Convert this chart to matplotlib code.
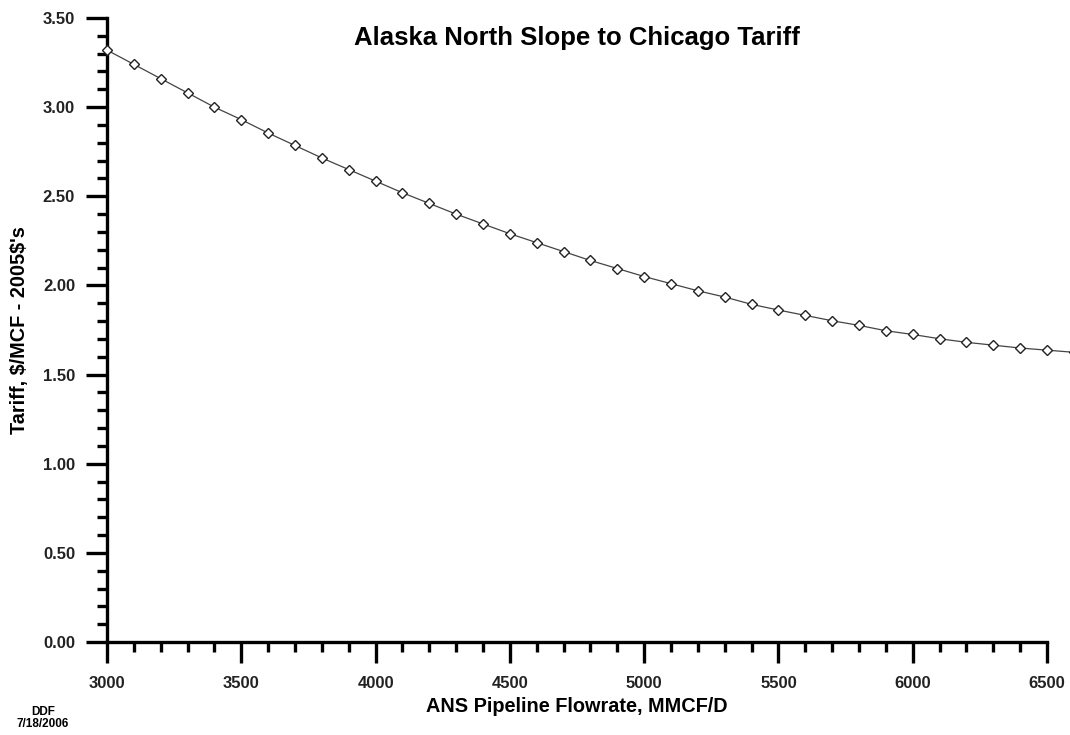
import numpy as np
import matplotlib.pyplot as plt
from matplotlib.ticker import MultipleLocator, FormatStrFormatter

# -----------------------------
# Data: tariff vs pipeline flowrate
flowrate = [3000, 3100, 3200, 3300, 3400, 3500, 3600, 3700, 3800, 3900,
            4000, 4100, 4200, 4300, 4400, 4500, 4600, 4700, 4800, 4900,
            5000, 5100, 5200, 5300, 5400, 5500, 5600, 5700, 5800, 5900,
            6000, 6100, 6200, 6300, 6400, 6500, 6600]
tariff = [3.32, 3.24, 3.16, 3.08, 3.00, 2.93, 2.855, 2.785, 2.715, 2.65,
          2.585, 2.52, 2.46, 2.40, 2.345, 2.29, 2.24, 2.19, 2.14, 2.095,
          2.05, 2.01, 1.97, 1.935, 1.894, 1.862, 1.832, 1.802, 1.776, 1.746,
          1.725, 1.701, 1.681, 1.665, 1.649, 1.637, 1.625]

plt.rcParams['font.family'] = ['Liberation Sans', 'DejaVu Sans']

fig = plt.figure(figsize=(10.7, 7.35), dpi=100)
ax = fig.add_axes([0.1, 0.1265, 0.8785, 0.849])

ax.plot(flowrate, tariff, color='#444444', lw=0.9, marker='D', ms=5.5,
        mfc='white', mec='#222222', mew=1.0, clip_on=False, zorder=3)

ax.set_xlim(3000, 6500)
ax.set_ylim(0, 3.5)

ax.xaxis.set_major_locator(MultipleLocator(500))
ax.xaxis.set_minor_locator(MultipleLocator(100))
ax.yaxis.set_major_locator(MultipleLocator(0.5))
ax.yaxis.set_minor_locator(MultipleLocator(0.1))
ax.yaxis.set_major_formatter(FormatStrFormatter('%.2f'))

for s in ['top', 'right']:
    ax.spines[s].set_visible(False)
for s in ['left', 'bottom']:
    ax.spines[s].set_linewidth(2.4)

ax.tick_params(which='major', direction='out', length=15, width=2.4,
               labelsize=12)
ax.tick_params(axis='x', which='major', pad=9.5)
ax.tick_params(axis='y', which='major', pad=8)
ax.tick_params(which='minor', direction='out', length=7.5, width=2.4)
for lab in ax.get_xticklabels() + ax.get_yticklabels():
    lab.set_fontweight('bold')
    lab.set_color('#222222')

ax.set_xlabel('ANS Pipeline Flowrate, MMCF/D', fontsize=14.3,
              fontweight='bold', labelpad=4)
ax.set_ylabel("Tariff, \\$/MCF - 2005\\$'s", fontsize=14.3,
              fontweight='bold')
ax.yaxis.set_label_coords(-0.093, 0.5)
ax.yaxis.label.set_va('center')

ax.text(0.5, 0.968, 'Alaska North Slope to Chicago Tariff',
        transform=ax.transAxes, ha='center', va='center',
        fontsize=18.5, fontweight='bold')

fig.text(0.04, 0.023, 'DDF\n7/18/2006', ha='center', va='center',
         fontsize=8.5, fontweight='bold', linespacing=1.0)

fig.savefig('out.png', dpi=100)
